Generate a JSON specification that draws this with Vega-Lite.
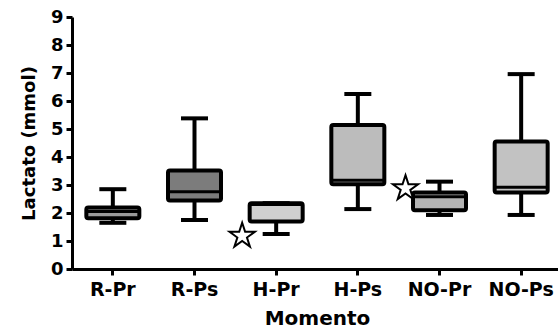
{
  "$schema": "https://vega.github.io/schema/vega-lite/v6.json",
  "autosize": {"type": "none"},
  "padding": {"left": 72, "top": 17, "right": 0, "bottom": 59},
  "width": 486,
  "height": 252,
  "background": "white",
  "config": {
    "view": {"stroke": null},
    "axis": {
      "domainColor": "black", "domainWidth": 3, "tickColor": "black", "tickWidth": 3, "tickSize": 6,
      "labelFont": "DejaVu Sans", "labelFontWeight": "bold", "labelFontSize": 18, "labelColor": "black",
      "titleFont": "DejaVu Sans", "titleFontWeight": "bold", "titleFontSize": 18, "titleColor": "black",
      "grid": false, "labelOverlap": false
    }
  },
  "datasets": {
    "boxes": [
      {"m": "R-Pr", "lo": 1.65, "q1": 1.81, "med": 2.05, "q3": 2.2, "hi": 2.85},
      {"m": "R-Ps", "lo": 1.75, "q1": 2.45, "med": 2.76, "q3": 3.52, "hi": 5.38},
      {"m": "H-Pr", "lo": 1.25, "q1": 1.7, "med": 2.3, "q3": 2.35, "hi": 2.35},
      {"m": "H-Ps", "lo": 2.14, "q1": 3.03, "med": 3.17, "q3": 5.14, "hi": 6.25},
      {"m": "NO-Pr", "lo": 1.93, "q1": 2.1, "med": 2.58, "q3": 2.73, "hi": 3.12},
      {"m": "NO-Ps", "lo": 1.93, "q1": 2.73, "med": 2.92, "q3": 4.55, "hi": 6.96}
    ],
    "stars": [
      {"m": "H-Pr", "v": 1.18},
      {"m": "NO-Pr", "v": 2.88}
    ]
  },
  "encoding": {
    "x": {
      "field": "m", "type": "nominal", "sort": ["R-Pr", "R-Ps", "H-Pr", "H-Ps", "NO-Pr", "NO-Ps"],
      "scale": {"paddingInner": 0, "paddingOuter": 0, "range": [0, 490]},
      "axis": {"title": "Momento", "labelAngle": 0, "labelPadding": 5, "labelFontSize": 19, "titleFontSize": 20, "titlePadding": 9}
    }
  },
  "layer": [
    {
      "data": {"name": "boxes"},
      "mark": {"type": "rule", "color": "black", "strokeWidth": 4},
      "encoding": {
        "y": {"field": "lo", "type": "quantitative", "scale": {"domain": [0, 9], "nice": false},
          "axis": {"title": "Lactato (mmol)", "values": [0,1,2,3,4,5,6,7,8,9], "labelPadding": 3, "titlePadding": 12}},
        "y2": {"field": "hi"}
      }
    },
    {
      "data": {"name": "boxes"},
      "mark": {"type": "tick", "color": "black", "size": 27, "thickness": 4, "opacity": 1},
      "encoding": {"y": {"field": "lo", "type": "quantitative",
          "axis": {"title": "Lactato (mmol)", "values": [0,1,2,3,4,5,6,7,8,9], "labelPadding": 3, "titlePadding": 12}}}
    },
    {
      "data": {"name": "boxes"},
      "mark": {"type": "tick", "color": "black", "size": 27, "thickness": 4, "opacity": 1},
      "encoding": {"y": {"field": "hi", "type": "quantitative",
          "axis": {"title": "Lactato (mmol)", "values": [0,1,2,3,4,5,6,7,8,9], "labelPadding": 3, "titlePadding": 12}}}
    },
    {
      "data": {"name": "boxes"},
      "mark": {"type": "bar", "size": 53, "stroke": "black", "strokeWidth": 4, "fillOpacity": 1, "cornerRadius": 2},
      "encoding": {
        "y": {"field": "q1", "type": "quantitative",
          "axis": {"title": "Lactato (mmol)", "values": [0,1,2,3,4,5,6,7,8,9], "labelPadding": 3, "titlePadding": 12}},
        "y2": {"field": "q3"},
        "fill": {"field": "m", "type": "nominal", "legend": null,
          "scale": {"domain": ["R-Pr", "R-Ps", "H-Pr", "H-Ps", "NO-Pr", "NO-Ps"],
            "range": ["#9a9a9a", "#7c7c7c", "#d0d0d0", "#bcbcbc", "#b4b4b4", "#c2c2c2"]}}
      }
    },
    {
      "data": {"name": "boxes"},
      "mark": {"type": "tick", "color": "black", "size": 51, "thickness": 3, "opacity": 1},
      "encoding": {"y": {"field": "med", "type": "quantitative",
          "axis": {"title": "Lactato (mmol)", "values": [0,1,2,3,4,5,6,7,8,9], "labelPadding": 3, "titlePadding": 12}}}
    },
    {
      "data": {"name": "stars"},
      "mark": {"type": "point", "shape": "M0,-1L0.2245,-0.309L0.9511,-0.309L0.3633,0.118L0.5878,0.809L0,0.382L-0.5878,0.809L-0.3633,0.118L-0.9511,-0.309L-0.2245,-0.309Z",
        "size": 700, "filled": true, "fill": "white", "stroke": "black", "strokeWidth": 2, "opacity": 1, "xOffset": -34},
      "encoding": {"y": {"field": "v", "type": "quantitative",
          "axis": {"title": "Lactato (mmol)", "values": [0,1,2,3,4,5,6,7,8,9], "labelPadding": 3, "titlePadding": 12}}}
    }
  ]
}
